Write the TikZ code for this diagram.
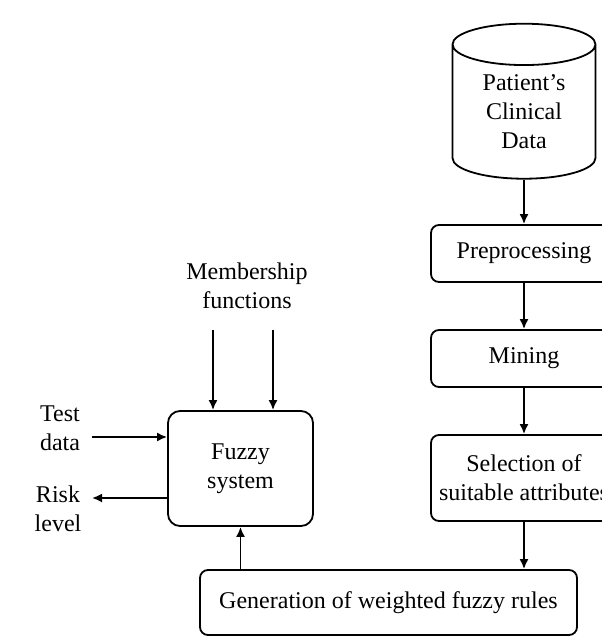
\documentclass[tikz,border=0pt]{standalone}
\usepackage{fontspec}
\setmainfont{Liberation Serif}
\usetikzlibrary{shapes.geometric, arrows.meta}
\begin{document}
\begin{tikzpicture}[>={Latex[length=5pt,width=4.5pt]}, x=0.5pt, y=-0.5pt, line width=0.9pt,
  font=\fontsize{12}{14.5}\selectfont,
  stepbox/.style={draw, rounded corners=4pt, align=center, inner sep=0pt,
    minimum width=93pt, minimum height=28.5pt}]
\useasboundingbox (0,0) rectangle (601,637);
% data store
\node[draw, cylinder, shape border rotate=90, aspect=0.5, align=center,
  minimum width=71.5pt, minimum height=77.5pt, inner sep=0pt] (db) at (524,112)
  {Patient's\\Clinical\\Data};
% mining chain
\node[stepbox] (prep) at (524,253.5) {Preprocessing};
\node[stepbox] (mine) at (524,358.5) {Mining};
\node[stepbox, minimum height=43pt] (sel) at (524,478) {Selection of\\suitable attributes};
\node[stepbox, minimum width=188.5pt, minimum height=32.5pt] (gen) at (388.5,602.5)
  {Generation of weighted fuzzy rules};
\draw[->] (db.south) -- (db.south |- prep.north);
\draw[->] (prep) -- (mine);
\draw[->] (mine) -- (sel);
\draw[->] (sel.south) -- (sel.south |- gen.north);
% fuzzy system
\node[draw, rounded corners=6pt, align=center, minimum width=72.5pt, minimum height=57.5pt]
  (fuzzy) at (240.5,468.5) {Fuzzy\\system};
\node[align=center] (memb) at (247,286) {Membership\\functions};
\node[align=center] (test) at (60,428) {Test\\data};
\node[align=center] (risk) at (58,509) {Risk\\level};
\coordinate (m1) at (213,330);
\coordinate (m2) at (273,330);
\coordinate (ta) at (92,437);
\coordinate (rl) at (92,498);
\draw[->] (m1) -- (m1 |- fuzzy.north);
\draw[->] (m2) -- (m2 |- fuzzy.north);
\draw[->] (ta) -- (ta -| fuzzy.west);
\draw[->] (rl -| fuzzy.west) -- (rl);
\draw[->] (fuzzy.south |- gen.north) -- (fuzzy.south);
\end{tikzpicture}
\end{document}
